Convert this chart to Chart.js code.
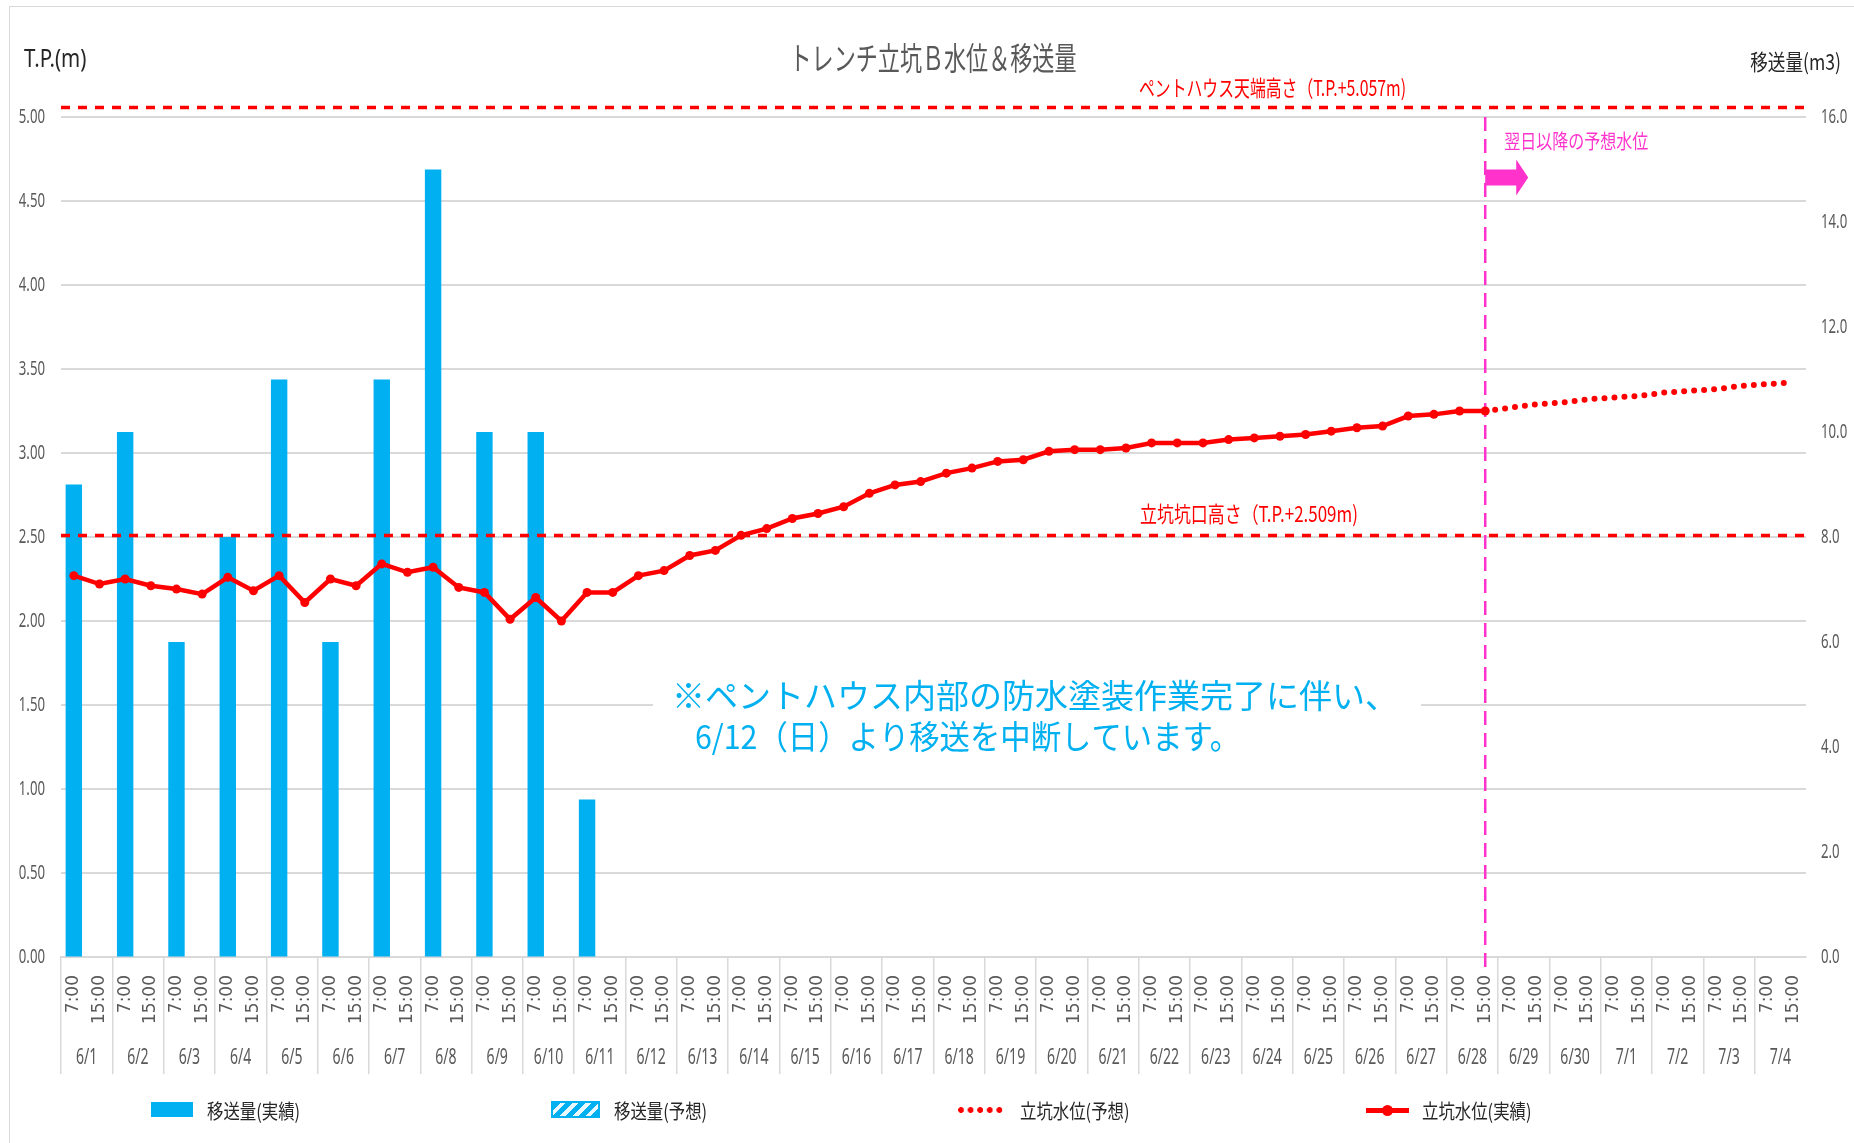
<!DOCTYPE html>
<html lang="ja">
<head>
<meta charset="utf-8">
<title>トレンチ立坑Ｂ水位＆移送量</title>
<script src="https://cdn.jsdelivr.net/npm/chart.js@4.4.1/dist/chart.umd.min.js"></script>
<style>
body { margin: 0; background: #fff; }
#wrap { position: relative; width: 1854px; height: 1143px; overflow: hidden; background: #fff; }
#frame { position: absolute; left: 9px; top: 6px; width: 1900px; height: 1200px; border: 1px solid #d9d9d9; }
canvas { position: absolute; left: 0; top: 0; }
.sw { position: absolute; }
.lt { position: absolute; top: 1096px; line-height: 28px; font: 20px "Noto Sans CJK JP", sans-serif; color: #262626;
      transform: scaleX(0.82); transform-origin: left center; white-space: nowrap; }
</style>
</head>
<body>
<div id="wrap">
  <div id="frame"></div>
  <canvas id="c" width="1854" height="1143"></canvas>

  <div class="sw" style="left:151px;top:1102px;width:42px;height:15px;background:#00B0F0"></div>
  <div class="lt" style="left:207px">移送量(実績)</div>

  <div class="sw" style="left:551px;top:1101px;width:45px;height:13px;border:2px solid #00B0F0;
       background:repeating-linear-gradient(135deg,#00B0F0 0 5px,#e8f8fe 5px 9px)"></div>
  <div class="lt" style="left:614px">移送量(予想)</div>

  <div class="sw" style="left:958px;top:1107px;width:48px;height:6px;
       background:radial-gradient(circle at 3px 3px,#FF0000 2.6px,rgba(255,0,0,0) 3.2px) 0 0/9.6px 6px repeat-x"></div>
  <div class="lt" style="left:1020px">立坑水位(予想)</div>

  <div class="sw" style="left:1366px;top:1108px;width:43px;height:5px;background:#FF0000"></div>
  <div class="sw" style="left:1382px;top:1105px;width:11px;height:11px;border-radius:50%;background:#FF0000"></div>
  <div class="lt" style="left:1422px">立坑水位(実績)</div>
</div>

<script>
// 日付と時刻
const days = ['6/1', '6/2', '6/3', '6/4', '6/5', '6/6', '6/7', '6/8', '6/9', '6/10',
  '6/11', '6/12', '6/13', '6/14', '6/15', '6/16', '6/17', '6/18', '6/19', '6/20',
  '6/21', '6/22', '6/23', '6/24', '6/25', '6/26', '6/27', '6/28', '6/29', '6/30',
  '7/1', '7/2', '7/3', '7/4'];
const slots = ['7:00', '15:00'];

// 移送量(m3) 各日7:00 (6/1〜6/11)
const transferActual = [9.0, 10.0, 6.0, 8.0, 11.0, 6.0, 11.0, 15.0, 10.0, 10.0, 3.0];
const transferForecast = [];

// 立坑水位 T.P.(m) 6/1 7:00 〜 6/28 15:00
const levelActual = [
  2.27, 2.22, 2.25, 2.21, 2.19, 2.16, 2.26, 2.18, 2.27, 2.11,
  2.25, 2.21, 2.34, 2.29, 2.32, 2.20, 2.17, 2.01, 2.14, 2.00,
  2.17, 2.17, 2.27, 2.30, 2.39, 2.42, 2.51, 2.55, 2.61, 2.64,
  2.68, 2.76, 2.81, 2.83, 2.88, 2.91, 2.95, 2.96, 3.01, 3.02,
  3.02, 3.03, 3.06, 3.06, 3.06, 3.08, 3.09, 3.10, 3.11, 3.13,
  3.15, 3.16, 3.22, 3.23, 3.25, 3.25];
// 予想水位 6/28 15:00 〜 7/4 15:00
const levelForecast = [3.25, 3.27, 3.29, 3.30, 3.32, 3.33, 3.34, 3.36, 3.37, 3.38, 3.40, 3.41, 3.42];

const penthouseTop = 5.057;
const shaftMouth = 2.509;

const NUM = '"Noto Sans", sans-serif';
const JP = '"Noto Sans CJK JP", sans-serif';
const CLEAR = 'rgba(0,0,0,0)';

let labels = [];
days.forEach(d => slots.forEach(s => labels.push(s)));
let barData = labels.map((s, i) => i % 2 === 0 && transferActual[i / 2] != null ? transferActual[i / 2] : null);
let fcStart = levelActual.length - 1;
let actData = labels.map((s, i) => i < levelActual.length ? levelActual[i] : null);
let fcData = labels.map((s, i) => i >= fcStart && i - fcStart < levelForecast.length ? levelForecast[i - fcStart] : null);

function txt(ctx, s, x, y, font, color, align, sx) {
    ctx.save();
    ctx.font = font;
    ctx.fillStyle = color;
    ctx.textAlign = align;
    ctx.textBaseline = 'middle';
    ctx.translate(x, y);
    ctx.scale(sx, 1);
    ctx.fillText(s, 0, 0);
    ctx.restore();
}

const annot = {
    id: 'annot',
    beforeDatasetsDraw(chart) {
        let ctx = chart.ctx, a = chart.chartArea, x = chart.scales.x;
        // 注記の白背景
        ctx.save();
        ctx.fillStyle = '#fff';
        ctx.fillRect(653, 658, 768, 108);
        ctx.restore();
        txt(ctx, '※ペントハウス内部の防水塗装作業完了に伴い、', 672, 695, '33px ' + JP, '#00B0F0', 'left', 1);
        txt(ctx, '6/12（日）より移送を中断しています。', 695, 736, '33px ' + JP, '#00B0F0', 'left', 0.92);

        // 予想開始の縦線
        let xp = x.getPixelForValue(fcStart);
        ctx.save();
        ctx.strokeStyle = '#FF33CC';
        ctx.lineWidth = 2.5;
        ctx.setLineDash([14, 8]);
        ctx.beginPath();
        ctx.moveTo(xp, a.top);
        ctx.lineTo(xp, a.bottom + 18);
        ctx.stroke();
        ctx.restore();
    },
    afterDatasetsDraw(chart) {
        let ctx = chart.ctx, a = chart.chartArea, x = chart.scales.x, y = chart.scales.y;
        ctx.save();
        ctx.strokeStyle = '#FF0000';
        ctx.lineWidth = 3.5;
        ctx.setLineDash([9, 8]);
        [penthouseTop, shaftMouth].forEach(v => {
            let py = y.getPixelForValue(v);
            ctx.beginPath();
            ctx.moveTo(a.left, py);
            ctx.lineTo(a.right, py);
            ctx.stroke();
        });
        ctx.restore();
        txt(ctx, 'ペントハウス天端高さ（T.P.+5.057m)', 1139, y.getPixelForValue(penthouseTop) - 20, '22px ' + JP, '#FF0000', 'left', 0.72);
        txt(ctx, '立坑坑口高さ（T.P.+2.509m)', 1140, y.getPixelForValue(shaftMouth) - 22, '22px ' + JP, '#FF0000', 'left', 0.77);

        // 予想水位の矢印
        let xp = x.getPixelForValue(fcStart);
        let ay = y.getPixelForValue(4.64);
        ctx.save();
        ctx.fillStyle = '#FF33CC';
        ctx.beginPath();
        ctx.moveTo(xp, ay - 8);
        ctx.lineTo(xp + 31, ay - 8);
        ctx.lineTo(xp + 31, ay - 18);
        ctx.lineTo(xp + 43, ay);
        ctx.lineTo(xp + 31, ay + 18);
        ctx.lineTo(xp + 31, ay + 8);
        ctx.lineTo(xp, ay + 8);
        ctx.closePath();
        ctx.fill();
        ctx.restore();
        txt(ctx, '翌日以降の予想水位', xp + 19, 141, '20px ' + JP, '#FF33CC', 'left', 0.8);
    },
    afterDraw(chart) {
        let ctx = chart.ctx, s = chart.scales;
        txt(ctx, 'トレンチ立坑Ｂ水位＆移送量', 933, 58, '32px ' + JP, '#595959', 'center', 0.69);
        txt(ctx, 'T.P.(m)', 24, 60, '25px ' + NUM, '#262626', 'left', 0.82);
        txt(ctx, '移送量(m3)', 1841, 62, '22px ' + JP, '#262626', 'right', 0.8);

        // 目盛ラベル (細めの字形で描画)
        s.y.ticks.forEach((t, i) => {
            txt(ctx, t.value.toFixed(2), s.y.right - 16, s.y.getPixelForTick(i), '20px ' + NUM, '#595959', 'right', 0.66);
        });
        s.y1.ticks.forEach((t, i) => {
            txt(ctx, t.value.toFixed(1), s.y1.left + 15, s.y1.getPixelForTick(i), '20px ' + NUM, '#595959', 'left', 0.66);
        });
        days.forEach((d, i) => {
            txt(ctx, d, s.xDay.getPixelForTick(i), 1058, '22px ' + NUM, '#595959', 'center', 0.64);
        });
    }
};

new Chart(document.getElementById('c'), {
    type: 'bar',
    data: {
        labels: labels,
        datasets: [{
            type: 'line',
            label: '立坑水位(実績)',
            data: actData,
            yAxisID: 'y',
            borderColor: '#FF0000',
            backgroundColor: '#FF0000',
            borderWidth: 4.5,
            pointRadius: 4.5,
            pointBorderWidth: 0,
            tension: 0,
            order: 0
        }, {
            type: 'line',
            label: '立坑水位(予想)',
            data: fcData,
            yAxisID: 'y',
            borderColor: '#FF0000',
            borderWidth: 6,
            borderDash: [0, 10],
            borderCapStyle: 'round',
            pointRadius: 0,
            tension: 0,
            order: 1
        }, {
            label: '移送量(実績)',
            data: barData,
            yAxisID: 'y1',
            backgroundColor: '#00B0F0',
            barPercentage: 0.64,
            categoryPercentage: 1,
            grouped: false,
            order: 2
        }, {
            label: '移送量(予想)',
            data: transferForecast,
            yAxisID: 'y1',
            backgroundColor: '#00B0F0',
            barPercentage: 0.64,
            categoryPercentage: 1,
            grouped: false,
            order: 3
        }]
    },
    options: {
        responsive: false,
        animation: false,
        events: [],
        layout: { padding: { top: 117, bottom: 66, left: 0, right: 0 } },
        plugins: { legend: { display: false }, tooltip: { enabled: false } },
        scales: {
            x: {
                type: 'category',
                position: 'bottom',
                weight: 0,
                offset: true,
                grid: {
                    offset: true,
                    drawOnChartArea: false,
                    drawTicks: true,
                    tickLength: 117,
                    lineWidth: 1.5,
                    color: c => c.index % 2 === 0 ? '#d9d9d9' : CLEAR
                },
                border: { display: true, color: '#d9d9d9', width: 2 },
                ticks: {
                    autoSkip: false, minRotation: 90, maxRotation: 90, padding: -99,
                    color: '#595959', font: { family: 'DejaVu Sans', size: 17 }
                },
                afterFit: s => { s.height = 80; }
            },
            xDay: {
                type: 'category',
                position: 'bottom',
                weight: 1,
                labels: days,
                offset: true,
                grid: { display: false },
                border: { display: false },
                ticks: { autoSkip: false, maxRotation: 0, color: CLEAR },
                afterFit: s => { s.height = 40; }
            },
            y: {
                position: 'left',
                min: 0,
                max: 5,
                ticks: { stepSize: 0.5, color: CLEAR },
                grid: { color: '#d9d9d9', lineWidth: 2, drawTicks: false },
                border: { display: false },
                afterFit: s => { s.width = 61; }
            },
            y1: {
                position: 'right',
                min: 0,
                max: 16,
                ticks: { stepSize: 2, color: CLEAR },
                grid: { drawOnChartArea: false, drawTicks: false },
                border: { display: false },
                afterFit: s => { s.width = 48; }
            }
        }
    },
    plugins: [annot]
});
</script>
</body>
</html>
